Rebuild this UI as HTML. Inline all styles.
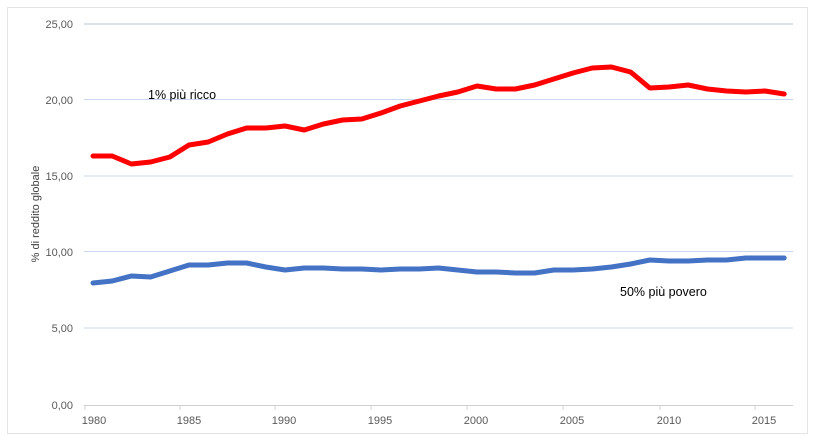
<!DOCTYPE html>
<html><head><meta charset="utf-8"><style>
html,body{margin:0;padding:0;background:#fff;}
svg{display:block;font-family:"Liberation Sans",sans-serif;}
</style></head><body>
<svg width="815" height="441" viewBox="0 0 815 441" xmlns="http://www.w3.org/2000/svg">
<rect x="7.5" y="7.5" width="800" height="426" fill="#fff" stroke="#e4e4e4"/>
<g stroke="#c9d6ee" stroke-width="1">
<line x1="84" y1="24" x2="793" y2="24" stroke="#dde3ea" stroke-width="2"/>
<line x1="84" y1="99.5" x2="793" y2="99.5"/>
<line x1="84" y1="176" x2="793" y2="176"/>
<line x1="84" y1="251.5" x2="793" y2="251.5"/>
<line x1="84" y1="328" x2="793" y2="328"/>
</g>
<g stroke="#d0d0d0" stroke-width="1">
<line x1="84" y1="405.5" x2="793" y2="405.5"/>
<line x1="85" y1="405" x2="85" y2="410"/><line x1="180" y1="405" x2="180" y2="410"/>
<line x1="275" y1="405" x2="275" y2="410"/><line x1="371" y1="405" x2="371" y2="410"/>
<line x1="467" y1="405" x2="467" y2="410"/><line x1="563" y1="405" x2="563" y2="410"/>
<line x1="660" y1="405" x2="660" y2="410"/><line x1="755" y1="405" x2="755" y2="410"/>
</g>
<g font-size="11" fill="#595959" text-anchor="end">
<text x="73" y="28">25,00</text><text x="73" y="104">20,00</text>
<text x="73" y="180">15,00</text><text x="73" y="256">10,00</text>
<text x="73" y="332">5,00</text><text x="73" y="409">0,00</text>
</g>
<g font-size="11" fill="#595959" text-anchor="middle">
<text x="94" y="424">1980</text><text x="189" y="424">1985</text>
<text x="284" y="424">1990</text><text x="380" y="424">1995</text>
<text x="476" y="424">2000</text><text x="572" y="424">2005</text>
<text x="669" y="424">2010</text><text x="764" y="424">2015</text>
</g>
<text transform="translate(39,214) rotate(-90)" font-size="11" fill="#404040" text-anchor="middle">% di reddito globale</text>
<polyline fill="none" stroke="#ff0000" stroke-width="5" stroke-linejoin="round" stroke-linecap="round" points="93,156 112.2,156 131.4,164 150.6,162 169.8,157 189,145 208.2,142 227.4,134 246.6,128 265.8,128 285,126 304.2,130 323.4,124 342.6,120 361.8,119 381,113 400.2,106 419.4,101 438.6,96 457.8,92 477,86 496.2,89 515.4,89 534.6,85 553.8,79 573,73 592.2,68 611.4,67 630.6,72 649.8,88 669,87 688.2,85 707.4,89 726.6,91 745.8,92 765,91 784.2,94"/>
<polyline fill="none" stroke="#4472c4" stroke-width="5" stroke-linejoin="round" stroke-linecap="round" points="93,283 112.2,281 131.4,276 150.6,277 169.8,271 189,265 208.2,265 227.4,263 246.6,263 265.8,267 285,270 304.2,268 323.4,268 342.6,269 361.8,269 381,270 400.2,269 419.4,269 438.6,268 457.8,270 477,272 496.2,272 515.4,273 534.6,273 553.8,270 573,270 592.2,269 611.4,267 630.6,264 649.8,260 669,261 688.2,261 707.4,260 726.6,260 745.8,258 765,258 784.2,258"/>
<text x="148" y="99" font-size="12.5" fill="#000">1% più ricco</text>
<text x="620" y="296" font-size="12.5" fill="#000">50% più povero</text>
</svg>
</body></html>
